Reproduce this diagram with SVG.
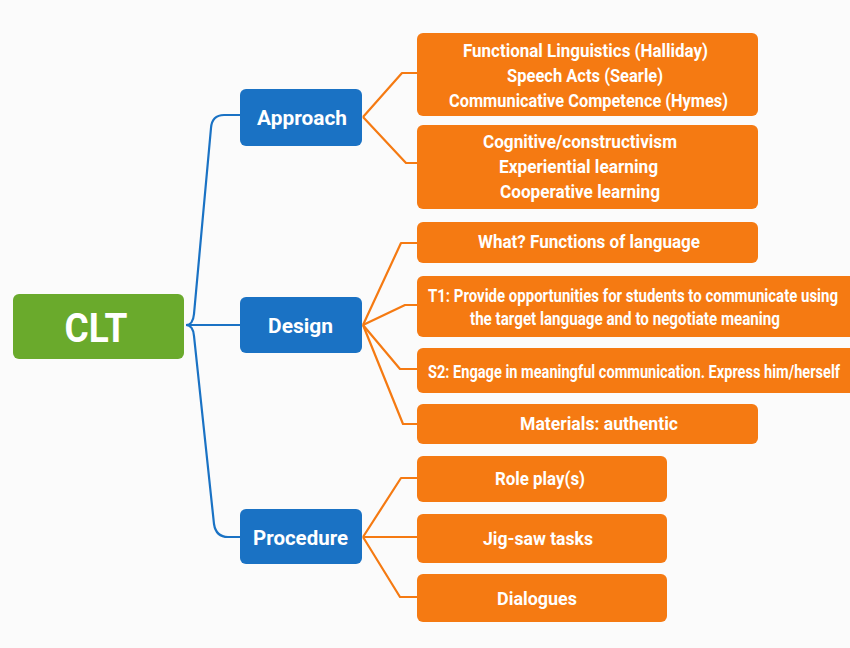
<svg xmlns="http://www.w3.org/2000/svg" width="850" height="648" viewBox="0 0 850 648">
<style>
.bg{fill:#fbfbfb}
.root rect{fill:#6aaa2c}
.cat rect{fill:#1a72c4}
.leaf rect{fill:#f57a12}
text{font-family:Roboto,"Liberation Sans",sans-serif;font-weight:bold;fill:#fff;text-anchor:middle}
.root text{font-size:40px}
.cat text{font-size:21px}
.leaf text{font-size:17.5px}
.blue{fill:none;stroke:#1a72c4;stroke-width:2.2;stroke-linejoin:round}
.orange{fill:none;stroke:#f57a12;stroke-width:2.2;stroke-linejoin:round}
</style>
<rect class="bg" x="0" y="0" width="850" height="648"/>
<g id="connectors">
<path class="blue" d="M186,325 Q193,325 194,314 L211,128 Q212,115 224,115 L240,115"/>
<path class="blue" d="M186,325 L240,325"/>
<path class="blue" d="M186,325 Q193,325 194,336 L214,524 Q216,537 228,537 L240,537"/>
<path class="orange" d="M363,117 L402,73 L417,73"/>
<path class="orange" d="M363,117 L406,163 L417,163"/>
<path class="orange" d="M363,325 L401,243 L417,243"/>
<path class="orange" d="M363,325 L405,305 L417,305"/>
<path class="orange" d="M363,325 L400,369 L417,369"/>
<path class="orange" d="M363,325 L403,424 L417,424"/>
<path class="orange" d="M363,537 L401,478 L417,478"/>
<path class="orange" d="M363,537 L417,537"/>
<path class="orange" d="M363,537 L400,597 L417,597"/>
</g>
<g id="clt" class="root"><rect x="13" y="294" width="171" height="65" rx="6"/><text x="96" y="342" textLength="63" lengthAdjust="spacingAndGlyphs">CLT</text></g>
<g id="approach" class="cat"><rect x="240" y="89" width="122" height="57" rx="6"/><text x="302" y="125" textLength="90" lengthAdjust="spacingAndGlyphs">Approach</text></g>
<g id="design" class="cat"><rect x="240" y="297" width="122" height="56" rx="6"/><text x="300.5" y="333" textLength="65" lengthAdjust="spacingAndGlyphs">Design</text></g>
<g id="procedure" class="cat"><rect x="240" y="509" width="122" height="55" rx="6"/><text x="300.5" y="545" textLength="95" lengthAdjust="spacingAndGlyphs">Procedure</text></g>
<g id="theories" class="leaf"><rect x="417" y="33" width="341" height="83" rx="6"/>
<text x="585.5" y="57" textLength="245" lengthAdjust="spacingAndGlyphs">Functional Linguistics (Halliday)</text>
<text x="585" y="82" textLength="156" lengthAdjust="spacingAndGlyphs">Speech Acts (Searle)</text>
<text x="588.5" y="107" textLength="279" lengthAdjust="spacingAndGlyphs">Communicative Competence (Hymes)</text></g>
<g id="learning" class="leaf"><rect x="417" y="125" width="341" height="84" rx="6"/>
<text x="580" y="148" textLength="194" lengthAdjust="spacingAndGlyphs">Cognitive/constructivism</text>
<text x="578.5" y="173" textLength="159" lengthAdjust="spacingAndGlyphs">Experiential learning</text>
<text x="580" y="198" textLength="160" lengthAdjust="spacingAndGlyphs">Cooperative learning</text></g>
<g id="what" class="leaf"><rect x="417" y="222" width="341" height="41" rx="6"/>
<text x="589" y="248" textLength="222" lengthAdjust="spacingAndGlyphs">What? Functions of language</text></g>
<g id="t1" class="leaf"><rect x="417" y="276" width="445" height="61" rx="6"/>
<text x="633" y="302" textLength="410" lengthAdjust="spacingAndGlyphs">T1: Provide opportunities for students to communicate using</text>
<text x="625" y="325" textLength="310" lengthAdjust="spacingAndGlyphs">the target language and to negotiate meaning</text></g>
<g id="s2" class="leaf"><rect x="417" y="348" width="445" height="45" rx="6"/>
<text x="634" y="378" textLength="412" lengthAdjust="spacingAndGlyphs">S2: Engage in meaningful communication. Express him/herself</text></g>
<g id="materials" class="leaf"><rect x="417" y="404" width="341" height="40" rx="6"/>
<text x="599" y="430" textLength="158" lengthAdjust="spacingAndGlyphs">Materials: authentic</text></g>
<g id="roleplay" class="leaf"><rect x="417" y="456" width="250" height="46" rx="6"/>
<text x="540" y="485" textLength="90" lengthAdjust="spacingAndGlyphs">Role play(s)</text></g>
<g id="jigsaw" class="leaf"><rect x="417" y="514" width="250" height="49" rx="6"/>
<text x="538" y="545" textLength="110" lengthAdjust="spacingAndGlyphs">Jig-saw tasks</text></g>
<g id="dialogues" class="leaf"><rect x="417" y="574" width="250" height="48" rx="6"/>
<text x="537" y="605" textLength="80" lengthAdjust="spacingAndGlyphs">Dialogues</text></g>
</svg>
